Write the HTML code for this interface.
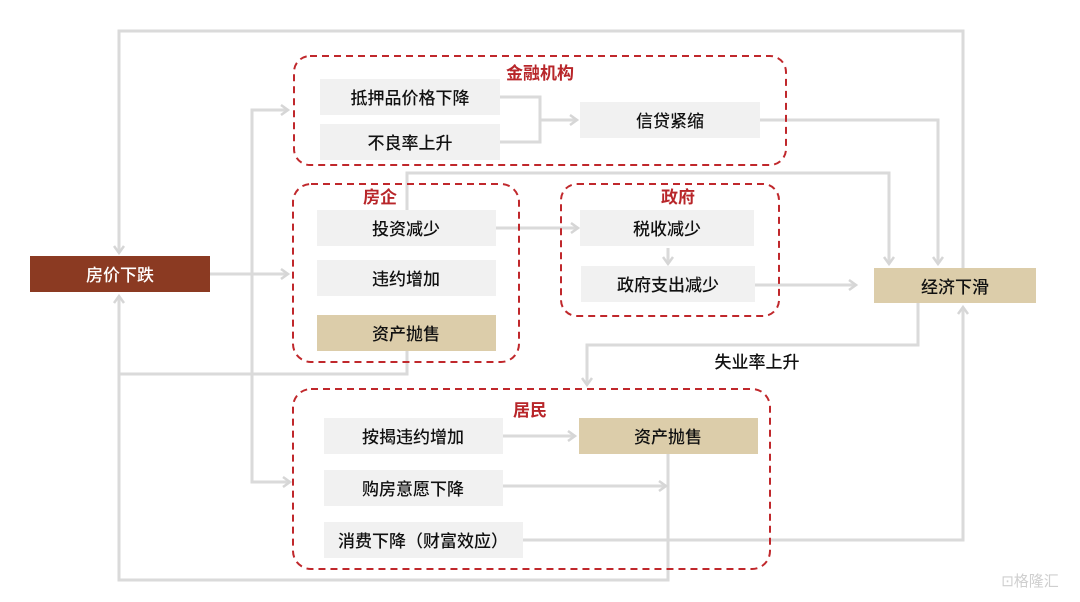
<!DOCTYPE html>
<html><head><meta charset="utf-8"><style>
body{margin:0;background:#fff;}
svg text{font-family:"Liberation Sans","Noto Sans CJK SC",sans-serif;}
</style></head><body>
<svg width="1080" height="597" viewBox="0 0 1080 597" xmlns="http://www.w3.org/2000/svg">
<defs>
<marker id="a" markerWidth="12" markerHeight="12" refX="9" refY="6" orient="auto" markerUnits="userSpaceOnUse">
<path d="M2,1 L9,6 L2,11" fill="none" stroke="#d6d6d6" stroke-width="2.5"/>
</marker>
</defs>
<g fill="none" stroke="#dadada" stroke-width="3">
<polyline points="963,268 963,31 119,31 119,253" marker-end="url(#a)"/>
<line x1="210" y1="274" x2="288" y2="274" marker-end="url(#a)"/>
<polyline points="288,110 252,110 252,482 290,482"/>
<line x1="252" y1="110" x2="288" y2="110" marker-end="url(#a)"/>
<line x1="252" y1="482" x2="290" y2="482" marker-end="url(#a)"/>
<polyline points="500,97 540,97 540,142 500,142"/>
<line x1="540" y1="120" x2="577" y2="120" marker-end="url(#a)"/>
<polyline points="760,120 938,120 938,264" marker-end="url(#a)"/>
<polyline points="407,210 407,173 889,173 889,264" marker-end="url(#a)"/>
<line x1="496" y1="228" x2="578" y2="228" marker-end="url(#a)"/>
<line x1="668" y1="248" x2="668" y2="264" marker-end="url(#a)"/>
<line x1="755" y1="285" x2="856" y2="285" marker-end="url(#a)"/>
<polyline points="918,303 918,345 587,345 587,385" marker-end="url(#a)"/>
<polyline points="407,351 407,374 119,374"/>
<polyline points="668,454 668,580 119,580 119,296" marker-end="url(#a)"/>
<line x1="503" y1="436" x2="575" y2="436" marker-end="url(#a)"/>
<line x1="503" y1="486" x2="666" y2="486" marker-end="url(#a)"/>
<polyline points="523,540 963,540 963,307" marker-end="url(#a)"/>
</g>
<g fill="none" stroke="#c0282c" stroke-width="2" stroke-dasharray="7,5">
<rect x="294" y="56" width="492" height="109" rx="16"/>
<rect x="293" y="184" width="226" height="178" rx="18"/>
<rect x="561" y="184" width="218" height="132" rx="16"/>
<rect x="293" y="389" width="477" height="180" rx="18"/>
</g>
<g fill="#f1f1f1">
<rect x="320" y="79" width="180" height="36"/>
<rect x="320" y="124" width="180" height="36"/>
<rect x="580" y="102" width="180" height="36"/>
<rect x="317" y="210" width="179" height="36"/>
<rect x="317" y="260" width="179" height="36"/>
<rect x="580" y="210" width="174" height="36"/>
<rect x="581" y="266" width="174" height="36"/>
<rect x="324" y="418" width="179" height="36"/>
<rect x="324" y="470" width="179" height="36"/>
<rect x="324" y="522" width="199" height="36"/>
</g>
<g fill="#dccdaa">
<rect x="317" y="315" width="179" height="36"/>
<rect x="874" y="268" width="162" height="35"/>
<rect x="579" y="418" width="179" height="36"/>
</g>
<rect x="30" y="256" width="180" height="36" fill="#8b3a22"/>
<g font-size="17" fill="#111" text-anchor="middle" font-weight="500">
<text x="410" y="104">抵押品价格下降</text>
<text x="410" y="149">不良率上升</text>
<text x="670" y="127">信贷紧缩</text>
<text x="406" y="235">投资减少</text>
<text x="406" y="285">违约增加</text>
<text x="406" y="340">资产抛售</text>
<text x="667" y="235">税收减少</text>
<text x="668" y="291">政府支出减少</text>
<text x="955" y="293">经济下滑</text>
<text x="757" y="368">失业率上升</text>
<text x="413" y="443">按揭违约增加</text>
<text x="668" y="443">资产抛售</text>
<text x="413" y="495">购房意愿下降</text>
<text x="423" y="547">消费下降（财富效应）</text>
<text x="120" y="281" fill="#fff">房价下跌</text>
</g>
<g font-size="17" fill="#b8262a" text-anchor="middle" font-weight="bold">
<text x="540" y="79">金融机构</text>
<text x="380" y="203">房企</text>
<text x="678" y="203">政府</text>
<text x="530" y="416">居民</text>
</g>
<text x="1030" y="586" font-size="15" fill="#cfcfcf" text-anchor="middle">⊡格隆汇</text>
</svg>
</body></html>
